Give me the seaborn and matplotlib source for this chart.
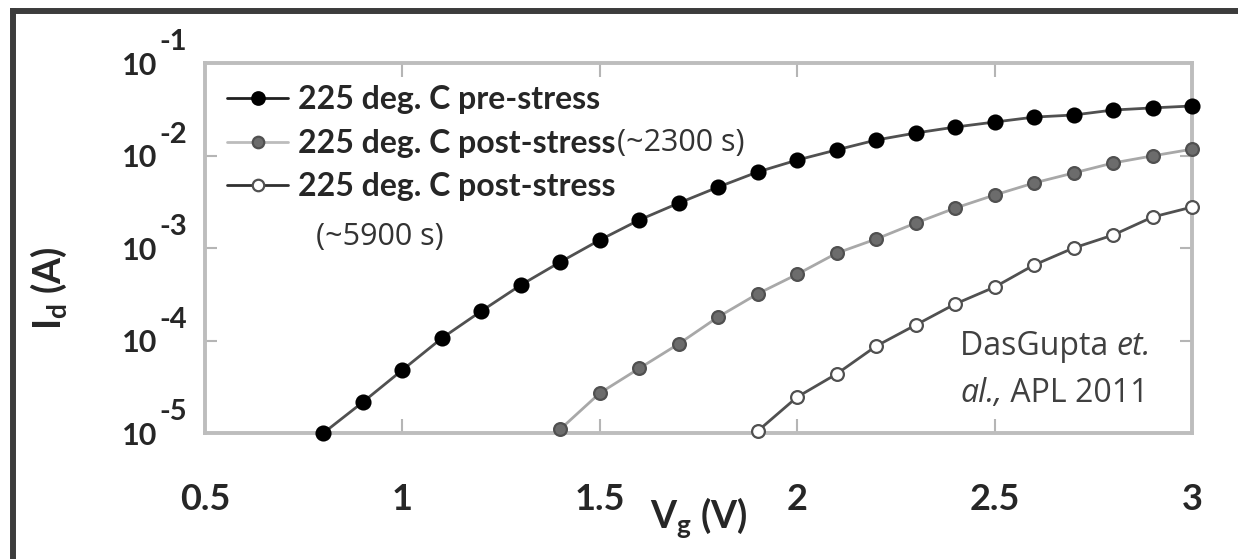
import matplotlib
matplotlib.use("Agg")
import matplotlib.pyplot as plt
from matplotlib.lines import Line2D
import seaborn as sns
import pandas as pd

# Drain current vs gate voltage at 225 deg. C, before and after stress
vg_pre = [0.8, 0.9, 1.0, 1.1, 1.2, 1.3, 1.4, 1.5, 1.6, 1.7, 1.8, 1.9,
          2.0, 2.1, 2.2, 2.3, 2.4, 2.5, 2.6, 2.7, 2.8, 2.9, 3.0]
id_pre = [1.0e-5, 2.16e-5, 4.8e-5, 1.06e-4, 2.08e-4, 3.98e-4, 7.06e-4,
          1.22e-3, 2.01e-3, 3.06e-3, 4.56e-3, 6.64e-3, 8.93e-3, 1.15e-2,
          1.47e-2, 1.75e-2, 2.03e-2, 2.3e-2, 2.6e-2, 2.74e-2, 3.1e-2,
          3.27e-2, 3.43e-2]

vg_2300 = [1.4, 1.5, 1.6, 1.7, 1.8, 1.9, 2.0, 2.1, 2.2, 2.3, 2.4, 2.5,
           2.6, 2.7, 2.8, 2.9, 3.0]
id_2300 = [1.1e-5, 2.7e-5, 5.0e-5, 9.2e-5, 1.8e-4, 3.2e-4, 5.2e-4, 8.8e-4,
           1.25e-3, 1.86e-3, 2.7e-3, 3.74e-3, 5.05e-3, 6.47e-3, 8.3e-3,
           9.9e-3, 1.17e-2]

vg_5900 = [1.9, 2.0, 2.1, 2.2, 2.3, 2.4, 2.5, 2.6, 2.7, 2.8, 2.9, 3.0]
id_5900 = [1.05e-5, 2.45e-5, 4.35e-5, 8.7e-5, 1.47e-4, 2.48e-4, 3.78e-4,
           6.55e-4, 1.0e-3, 1.38e-3, 2.16e-3, 2.77e-3]

series_labels = ["225 deg. C pre-stress", "225 deg. C post-stress",
                 "225 deg. C post-stress"]
stress_notes = ["(~2300 s)", "(~5900 s)"]
x_ticks = [0.5, 1, 1.5, 2, 2.5, 3]
x_tick_labels = ["0.5", "1", "1.5", "2", "2.5", "3"]
y_exponents = [-1, -2, -3, -4, -5]

sns.set_style("white")
plt.rcParams["font.family"] = ["Lato", "DejaVu Sans"]
plt.rcParams["mathtext.fontset"] = "custom"
plt.rcParams["mathtext.bf"] = "Lato:bold"
plt.rcParams["mathtext.rm"] = "Lato"

fig = plt.figure(figsize=(1239 / 100, 559 / 100), dpi=100, facecolor="white")
ax = fig.add_axes([205 / 1239, 1 - 433 / 559, 987 / 1239, 370 / 559])

styles = [
    dict(color="#505050", markerfacecolor="black", markeredgecolor="black",
         markersize=10),
    dict(color="#a8a8a8", markerfacecolor="#6c6c6c", markeredgecolor="#505050",
         markersize=9.2),
    dict(color="#505050", markerfacecolor="white", markeredgecolor="#505050",
         markersize=9.2),
]
datasets = [(vg_pre, id_pre), (vg_2300, id_2300), (vg_5900, id_5900)]
for (xs, ys), lab, st in zip(datasets, series_labels, styles):
    df = pd.DataFrame({"Vg": xs, "Id": ys})
    sns.lineplot(data=df, x="Vg", y="Id", ax=ax, label=lab, marker="o",
                 markeredgewidth=1.6, linewidth=2.0, clip_on=False, zorder=4,
                 **st)

ax.set_yscale("log")
ax.set_xlim(0.5, 3)
ax.set_ylim(1e-5, 1e-1)
ax.set_xticks(x_ticks)
ax.set_xticklabels(x_tick_labels, fontsize=26, fontweight="bold")
ax.set_yticks([10.0 ** e for e in y_exponents])
ax.set_yticklabels([])
ax.minorticks_off()
ax.tick_params(axis="x", which="major", direction="in", length=10, width=1.5,
               color="#b5b5b5", top=True, bottom=True, pad=36)
ax.tick_params(axis="y", which="major", direction="in", length=8.5, width=1.5,
               color="#b5b5b5", left=True, right=True)
for s in ax.spines.values():
    s.set_color("#bdbdbd")
    s.set_linewidth(2.8)

# y tick labels drawn as "10" with a raised exponent
for e in y_exponents:
    ax.annotate("10", xy=(0, 10.0 ** e), xycoords=("axes fraction", "data"),
                xytext=(-34.5, -2), textcoords="offset points", ha="right",
                va="center", fontsize=22, fontweight="bold")
    ax.annotate(f"-{abs(e)}", xy=(0, 10.0 ** e),
                xycoords=("axes fraction", "data"), xytext=(-13, 15),
                textcoords="offset points", ha="right", va="center",
                fontsize=21, fontweight="bold")

ax.set_xlabel(r"V$_\mathbf{g}$ (V)", fontsize=27, fontweight="bold")
ax.xaxis.set_label_coords(0.5, -0.17)
ax.set_ylabel(r"I$_\mathbf{d}$ (A)", fontsize=27, fontweight="bold")
ax.yaxis.set_label_coords(-0.138, 0.392)

leg = ax.legend(loc="upper left", frameon=False, fontsize=23,
                handlelength=1.9, handletextpad=0.3, labelspacing=0.45,
                borderaxespad=0.3, borderpad=0.4, markerscale=0.9)
for t in leg.get_texts():
    t.set_fontweight("bold")
leg_lines = leg.get_lines()
leg_lines[0].set_color("#202020")
leg_lines[1].set_color("#bcbcbc")
leg_lines[2].set_color("#303030")

fig.canvas.draw()
texts = leg.get_texts()
ax.annotate(stress_notes[0], xy=(1, 0.5), xycoords=texts[1], xytext=(1, 0),
            textcoords="offset points", ha="left", va="center", fontsize=22,
            family="Open Sans", color="#333333", zorder=6)
ax.annotate(stress_notes[1], xy=(0, 0.5), xycoords=texts[2], xytext=(13, -36),
            textcoords="offset points", ha="left", va="center", fontsize=22,
            family="Open Sans", color="#333333", zorder=6)

# citation, with the Latin abbreviations in italics
cite_kw = dict(fontsize=23, family="Open Sans", color="#404040")
c1 = ax.text(0.765, 0.211, "DasGupta ", transform=ax.transAxes,
             va="baseline", ha="left", **cite_kw)
ax.annotate("et.", xy=(1, 0), xycoords=c1, va="bottom", ha="left",
            style="italic", **cite_kw)
c2 = ax.text(0.765, 0.084, "al.,", transform=ax.transAxes, style="italic",
             va="baseline", ha="left", **cite_kw)
ax.annotate(" APL 2011", xy=(1, 0), xycoords=c2, va="bottom", ha="left",
            **cite_kw)

# dark frame along the top and left edges
fig.add_artist(Line2D([10 / 1239, 1238 / 1239], [1 - 11 / 559, 1 - 11 / 559],
                      color="#3c3c3c", linewidth=4.3, solid_capstyle="butt"))
fig.add_artist(Line2D([13 / 1239, 13 / 1239], [0.0, 1 - 8 / 559],
                      color="#3c3c3c", linewidth=4.3, solid_capstyle="butt"))

fig.savefig("out.png", dpi=100, facecolor="white", transparent=False)
